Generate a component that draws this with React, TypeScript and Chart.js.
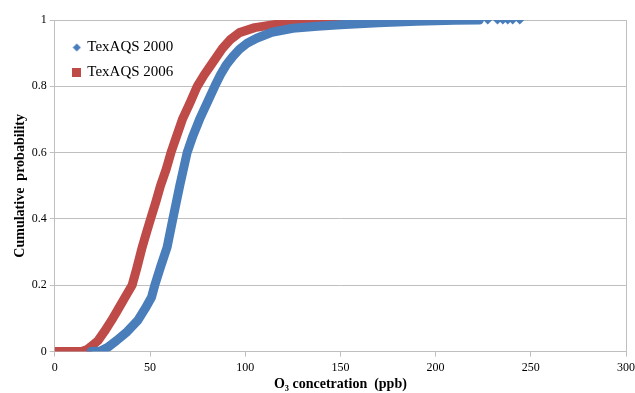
import React, { useEffect, useRef } from "react";
import { Chart, registerables } from "chart.js";

Chart.register(...registerables);

// TexAQS 2000 cumulative distribution (O3 ppb, probability)
const blueX = [19, 24, 27.8, 32.4, 38, 43.6, 47.5, 50.8, 52.5, 55.5, 59, 62, 65.6, 69.5, 72.5, 76, 80, 84, 87, 90, 93.5, 97, 101, 106, 114, 125, 138, 150, 170, 190, 210, 223];
const blueP = [0, 0.002, 0.013, 0.033, 0.06, 0.094, 0.13, 0.164, 0.2, 0.255, 0.315, 0.4, 0.5, 0.6, 0.65, 0.7, 0.75, 0.8, 0.835, 0.864, 0.89, 0.912, 0.93, 0.945, 0.963, 0.975, 0.981, 0.986, 0.992, 0.996, 0.999, 1.0];
// isolated high values of TexAQS 2000
const blueTailX = [227.4, 232.5, 235.3, 237.9, 240.5, 244.2];
const blueTailP = [1, 1, 1, 1, 1, 1];

// TexAQS 2006 cumulative distribution
const redX = [0, 14, 17, 20, 22.7, 26, 29.8, 33, 36.9, 40.6, 43, 45.9, 48.2, 50.3, 53, 55.5, 58.5, 61, 64, 67, 71, 74.8, 78.5, 82, 88, 92, 97, 105, 115, 123, 135, 149];
const redP = [0, 0, 0.006, 0.02, 0.033, 0.06, 0.094, 0.125, 0.164, 0.2, 0.25, 0.315, 0.36, 0.4, 0.45, 0.5, 0.55, 0.6, 0.65, 0.7, 0.75, 0.8, 0.835, 0.864, 0.914, 0.94, 0.962, 0.977, 0.986, 0.991, 0.996, 1.0];

const seriesNames = ["TexAQS 2000", "TexAQS 2006"];
const xTitle = "O\u2083 concetration  (ppb)";
const yTitle = "Cumulative  probability";

const BLUE = "#4A7EBB";
const RED = "#BE4B48";
const FONT = "'Liberation Serif', 'Times New Roman', serif";

function makeMarker(kind: "diamond" | "square", color: string): HTMLCanvasElement {
  const c = document.createElement("canvas");
  const s = 9;
  c.width = s;
  c.height = s;
  const g = c.getContext("2d")!;
  g.fillStyle = color;
  if (kind === "diamond") {
    g.beginPath();
    g.moveTo(s / 2, 0.5);
    g.lineTo(s - 0.5, s / 2);
    g.lineTo(s / 2, s - 0.5);
    g.lineTo(0.5, s / 2);
    g.closePath();
    g.fill();
  } else {
    g.fillRect(0, 0, s, s);
  }
  return c;
}

const legendShift = {
  id: "legendShift",
  afterLayout(chart: any) {
    if (chart.legend) {
      chart.legend.left += 9;
      chart.legend.top += 30;
    }
  },
};

export default function App() {
  const ref = useRef<HTMLCanvasElement>(null);
  useEffect(() => {
    document.body.style.margin = "0";
    const blueMarker = makeMarker("diamond", BLUE);
    const redMarker = makeMarker("square", RED);
    const chart = new Chart(ref.current!, {
      type: "scatter",
      data: {
        datasets: [
          {
            label: seriesNames[0],
            data: blueX.map((x, i) => ({ x, y: blueP[i] })),
            showLine: true,
            borderColor: BLUE,
            backgroundColor: BLUE,
            borderWidth: 9,
            borderJoinStyle: "round",
            borderCapStyle: "round",
            pointRadius: 0,
            pointStyle: blueMarker,
          },
          {
            label: "tail",
            data: blueTailX.map((x, i) => ({ x, y: blueTailP[i] })),
            showLine: false,
            backgroundColor: BLUE,
            borderColor: BLUE,
            pointStyle: "rectRot",
            pointRadius: 4.5,
            pointBorderWidth: 0,
          },
          {
            label: seriesNames[1],
            data: redX.map((x, i) => ({ x, y: redP[i] })),
            showLine: true,
            borderColor: RED,
            backgroundColor: RED,
            borderWidth: 9,
            borderJoinStyle: "round",
            borderCapStyle: "square",
            pointRadius: 0,
            pointStyle: redMarker,
          },
        ],
      },
      plugins: [legendShift],
      options: {
        animation: false,
        responsive: false,
        maintainAspectRatio: false,
        layout: { padding: { top: 20, right: 0, bottom: 0, left: 12 } },
        plugins: {
          tooltip: { enabled: false },
          legend: {
            position: "chartArea",
            align: "start",
            labels: {
              usePointStyle: true,
              boxWidth: 6,
              boxHeight: 8,
              padding: 10,
              color: "#000",
              font: { family: FONT, size: 15, lineHeight: 1.4 },
              filter: (item: any) => item.text !== "tail",
            },
          },
        },
        scales: {
          x: {
            type: "linear",
            min: 0,
            max: 300,
            afterFit: (scale: any) => {
              scale.paddingRight = 9;
            },
            ticks: { stepSize: 50, color: "#000", font: { family: FONT, size: 12 }, padding: 4 },
            grid: {
              drawOnChartArea: true,
              color: (ctx: any) => (ctx.tick && ctx.tick.value === 300 ? "#BFBFBF" : "rgba(0,0,0,0)"),
              tickColor: "#BFBFBF",
              tickLength: 5,
            },
            border: { color: "#BFBFBF" },
            title: {
              display: true,
              text: xTitle,
              color: "#000",
              font: { family: FONT, size: 14, weight: "bold", lineHeight: 1 },
              padding: { top: -2, bottom: 2 },
            },
          },
          y: {
            min: 0,
            max: 1,
            ticks: {
              stepSize: 0.2,
              color: "#000",
              font: { family: FONT, size: 12 },
              padding: 3,
              callback: (v: any) => String(Math.round(Number(v) * 10) / 10),
            },
            grid: { color: "#BFBFBF", tickColor: "#BFBFBF", tickLength: 5 },
            border: { color: "#BFBFBF" },
            title: {
              display: true,
              text: yTitle,
              color: "#000",
              font: { family: FONT, size: 14, weight: "bold" },
              padding: { top: 0, bottom: 0 },
            },
          },
        },
      },
    } as any);
    return () => chart.destroy();
  }, []);
  return (
    <div style={{ position: "absolute", left: 0, top: 0, width: 635, height: 393 }}>
      <canvas ref={ref} width={635} height={393} style={{ width: 635, height: 393 }} />
    </div>
  );
}
